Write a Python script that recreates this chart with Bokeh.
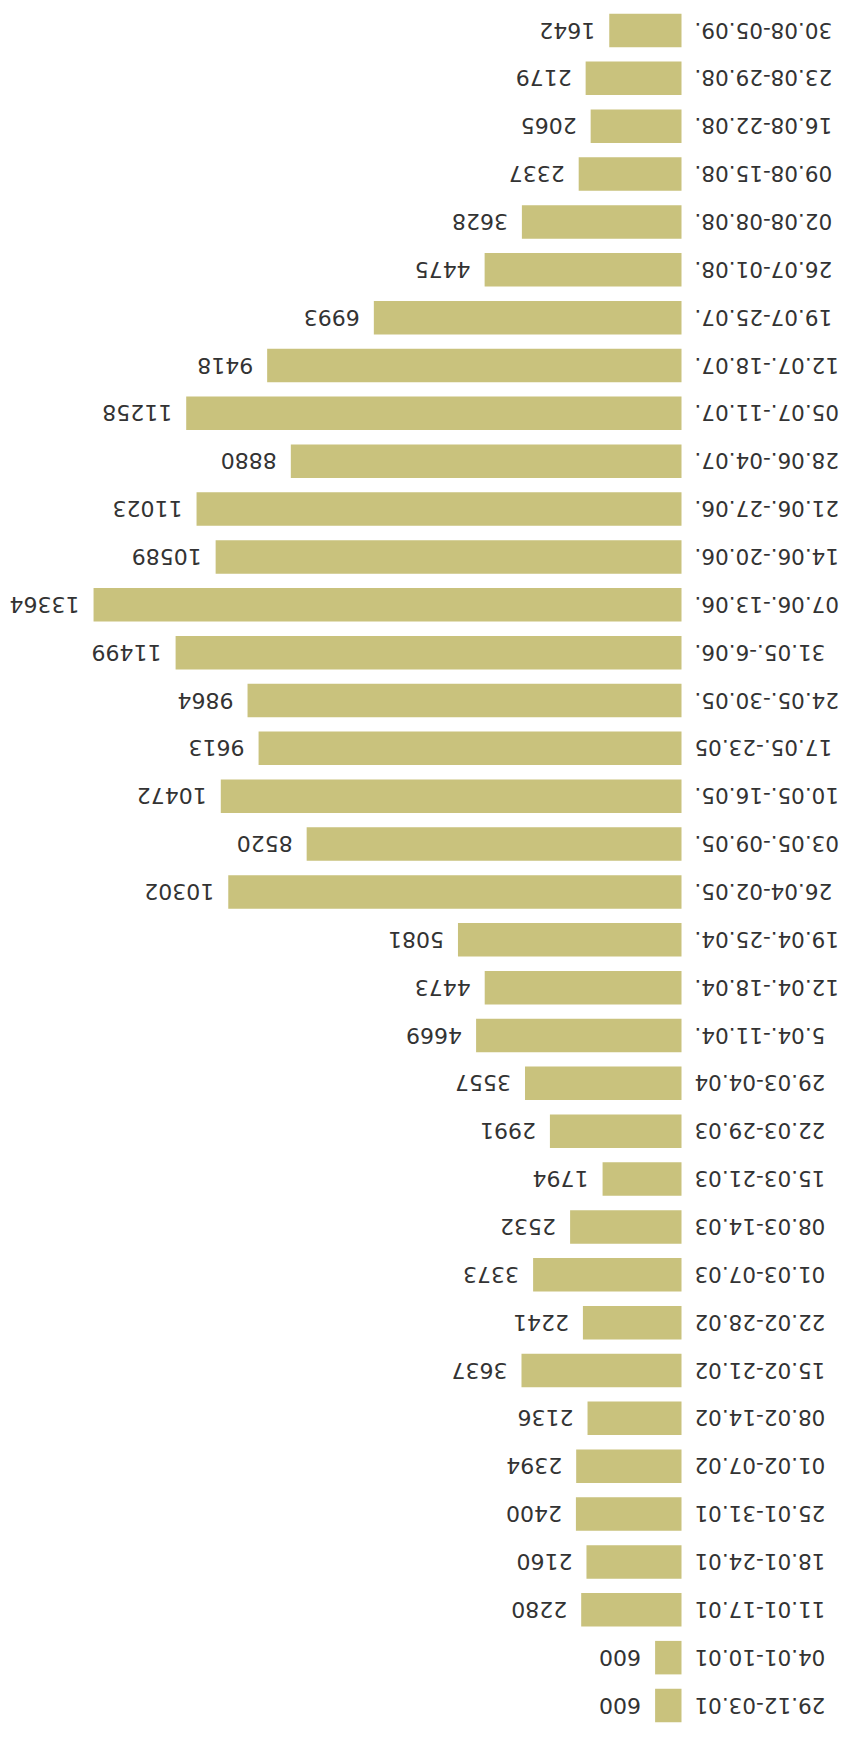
from bokeh.plotting import figure
from bokeh.models import Range1d, ColumnDataSource
from bokeh.core.properties import value
from bokeh.embed import file_html
from bokeh.resources import INLINE
import math

periods = ["29.12-03.01", "04.01-10.01", "11.01-17.01", "18.01-24.01", "25.01-31.01",
           "01.02-07.02", "08.02-14.02", "15.02-21.02", "22.02-28.02", "01.03-07.03",
           "08.03-14.03", "15.03-21.03", "22.03-29.03", "29.03-04.04", "5.04.-11.04.",
           "12.04.-18.04.", "19.04.-25.04.", "26.04-02.05.", "03.05.-09.05.", "10.05.-16.05.",
           "17.05.-23.05", "24.05.-30.05.", "31.05.-6.06.", "07.06.-13.06.", "14.06.-20.06.",
           "21.06.-27.06.", "28.06.-04.07.", "05.07.-11.07.", "12.07.-18.07.", "19.07-25.07.",
           "26.07-01.08.", "02.08-08.08.", "09.08-15.08.", "16.08-22.08.", "23.08-29.08.",
           "30.08-05.09."]
counts = [600, 600, 2280, 2160, 2400, 2394, 2136, 3637, 2241, 3373,
          2532, 1794, 2991, 3557, 4669, 4473, 5081, 10302, 8520, 10472,
          9613, 9864, 11499, 13364, 10589, 11023, 8880, 11258, 9418, 6993,
          4475, 3628, 2337, 2065, 2179, 1642]

idx = list(range(len(periods)))
src = ColumnDataSource(dict(y=idx, v=counts, lab=periods,
                            vt=[str(c) for c in counts], zero=[0] * len(idx)))

W, H = 840, 1723
p = figure(width=W, height=H, output_backend="svg", toolbar_location=None,
           x_range=Range1d(15479, -3614), y_range=Range1d(-0.376, 35.627),
           min_border=0, min_border_left=0, min_border_right=0,
           min_border_top=0, min_border_bottom=0)
p.axis.visible = False
p.grid.visible = False
p.outline_line_color = None
p.background_fill_color = "white"
p.border_fill_color = "white"

p.hbar(y="y", left="zero", right="v", height=0.70, source=src,
       fill_color="#c9c27d", line_color=None)

# value labels (upside-down, like the reference)
p.text(x="v", y="y", text="vt", source=src, angle=math.pi,
       x_offset=-14, text_align="left", text_baseline="middle",
       text_font=value("DejaVu Sans"), text_font_size="22px", text_color="#333333")

# period labels
p.text(x="zero", y="y", text="lab", source=src, angle=math.pi,
       x_offset=13, text_align="right", text_baseline="middle",
       text_font=value("DejaVu Sans"), text_font_size="21.5px", text_color="#333333")

open("out.html", "w").write(file_html(p, INLINE))
